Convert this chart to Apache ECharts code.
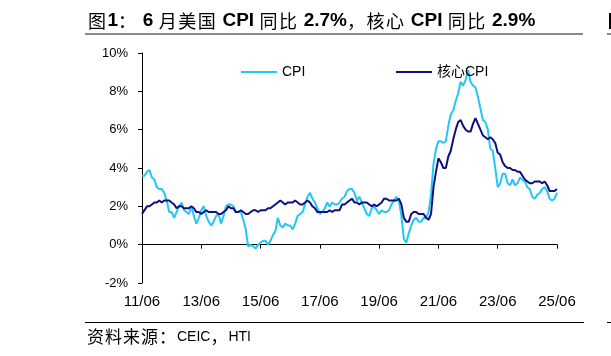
<!DOCTYPE html>
<html>
<head>
<meta charset="utf-8">
<script src="https://cdn.jsdelivr.net/npm/echarts@6/dist/echarts.min.js"></script>
<style>
html,body{margin:0;padding:0;background:#fff;}
#c{width:611px;height:356px;}
</style>
</head>
<body>
<div id="c"></div>
<script>
// Monthly YoY, 2011-06 .. 2025-06
var cpi = [
  3.6, 3.6, 3.8, 3.9, 3.5, 3.4, 3.0,
  2.9, 2.9, 2.7, 2.3, 1.7, 1.7, 1.4, 1.7, 2.0, 2.2, 1.8, 1.7,
  1.6, 2.0, 1.5, 1.1, 1.4, 1.8, 2.0, 1.5, 1.2, 1.0, 1.2, 1.5,
  1.6, 1.1, 1.5, 2.0, 2.1, 2.1, 2.0, 1.7, 1.7, 1.7, 1.3, 0.8,
  -0.1, 0.0, -0.1, -0.2, 0.0, 0.1, 0.2, 0.2, 0.0, 0.2, 0.5, 0.7,
  1.4, 1.0, 0.9, 1.1, 1.0, 1.0, 0.8, 1.1, 1.5, 1.6, 1.7, 2.1,
  2.5, 2.7, 2.4, 2.2, 1.9, 1.6, 1.7, 1.9, 2.2, 2.0, 2.2, 2.1,
  2.1, 2.2, 2.4, 2.5, 2.8, 2.9, 2.9, 2.7, 2.3, 2.5, 2.2, 1.9,
  1.6, 1.5, 1.9, 2.0, 1.8, 1.6, 1.8, 1.7, 1.7, 1.8, 2.1, 2.3,
  2.5, 2.3, 1.5, 0.3, 0.1, 0.6, 1.0, 1.3, 1.4, 1.2, 1.2, 1.4,
  1.4, 1.7, 2.6, 4.2, 5.0, 5.4, 5.4, 5.3, 5.4, 6.2, 6.8, 7.0,
  7.5, 7.9, 8.5, 8.3, 8.6, 9.1, 8.5, 8.3, 8.2, 7.7, 7.1, 6.5,
  6.4, 6.0, 5.0, 4.9, 4.0, 3.0, 3.2, 3.7, 3.7, 3.2, 3.1, 3.4,
  3.1, 3.2, 3.5, 3.4, 3.3, 3.0, 2.9, 2.5, 2.4, 2.6, 2.7, 2.9,
  3.0, 2.8, 2.4, 2.3, 2.4, 2.7
];
var coreCpi = [
  1.6, 1.8, 2.0, 2.0, 2.1, 2.2, 2.2,
  2.3, 2.2, 2.3, 2.3, 2.3, 2.2, 2.1, 1.9, 2.0, 2.0, 1.9, 1.9,
  1.9, 2.0, 1.9, 1.7, 1.7, 1.6, 1.7, 1.8, 1.7, 1.7, 1.7, 1.7,
  1.6, 1.6, 1.7, 1.8, 2.0, 1.9, 1.9, 1.7, 1.7, 1.8, 1.7, 1.6,
  1.6, 1.7, 1.8, 1.8, 1.7, 1.8, 1.8, 1.8, 1.9, 1.9, 2.0, 2.1,
  2.2, 2.3, 2.2, 2.1, 2.2, 2.2, 2.2, 2.3, 2.2, 2.1, 2.1, 2.2,
  2.3, 2.2, 2.0, 1.9, 1.7, 1.7, 1.7, 1.7, 1.7, 1.8, 1.7, 1.8,
  1.8, 1.8, 2.1, 2.1, 2.2, 2.3, 2.4, 2.2, 2.2, 2.1, 2.2, 2.2,
  2.2, 2.1, 2.0, 2.1, 2.0, 2.1, 2.2, 2.4, 2.4, 2.3, 2.3, 2.3,
  2.3, 2.4, 2.1, 1.4, 1.2, 1.2, 1.6, 1.7, 1.7, 1.6, 1.6, 1.6,
  1.4, 1.3, 1.6, 3.0, 3.8, 4.5, 4.3, 4.0, 4.0, 4.6, 4.9, 5.5,
  6.0, 6.4, 6.5, 6.2, 6.0, 5.9, 5.9, 6.3, 6.6, 6.3, 6.0, 5.7,
  5.6, 5.5, 5.6, 5.5, 5.3, 4.8, 4.7, 4.3, 4.1, 4.0, 4.0, 3.9,
  3.9, 3.8, 3.8, 3.6, 3.4, 3.3, 3.2, 3.2, 3.3, 3.3, 3.3, 3.2,
  3.3, 3.1, 2.8, 2.8, 2.8, 2.9
];
var startYear = 2011, startMonth = 6, monthCount = 169;
var months = [];
for (var i = 0; i < monthCount; i++) {
  var m = startMonth - 1 + i;
  var y = startYear + Math.floor(m / 12);
  var mm = (m % 12) + 1;
  months.push(String(y % 100).padStart(2, '0') + '/' + String(mm).padStart(2, '0'));
}
var yMin = -2, yMax = 10, yStep = 2;
var titleText = '图1： 6 月美国 CPI 同比 2.7%，核心 CPI 同比 2.9%';
var sourceText = '资料来源：CEIC，HTI';

var latin = 'Liberation Sans, Arial, Noto Sans CJK SC, sans-serif';
var cjk = 'Noto Sans CJK SC, sans-serif';

// split a string into rich tokens: CJK chars as fixed-width tokens, latin runs as another style
function richify(str, cStyle, lStyle) {
  var out = '', run = '';
  for (var k = 0; k < str.length; k++) {
    var ch = str[k];
    if (/[\u3000-\u9fff\uff00-\uffef]/.test(ch)) {
      if (run) { out += '{' + lStyle + '|' + run + '}'; run = ''; }
      out += '{' + cStyle + '|' + ch + '}';
    } else run += ch;
  }
  if (run) out += '{' + lStyle + '|' + run + '}';
  return out;
}

var chart = echarts.init(document.getElementById('c'), null, {renderer: 'canvas'});
chart.setOption({
  animation: false,
  backgroundColor: '#fff',
  grid: {left: 142, right: 54, top: 53, bottom: 73, containLabel: false},
  legend: [
    {data: ['CPI'], left: 241, top: 65, padding: 0, itemWidth: 36, itemHeight: 14, itemGap: 5,
     icon: 'path://M0,6 L36,6 L36,8 L0,8 Z',
     textStyle: {fontFamily: latin, fontSize: 14, color: '#000'}},
    {data: ['核心CPI'], left: 396, top: 65, padding: 0, itemWidth: 36, itemHeight: 14, itemGap: 5,
     icon: 'path://M0,6 L36,6 L36,8 L0,8 Z',
     textStyle: {fontFamily: latin, fontSize: 14, color: '#000'}}
  ],
  xAxis: [
    {type: 'category', data: months, boundaryGap: false,
     axisLine: {onZero: true, lineStyle: {color: '#000', width: 1}},
     axisTick: {show: true, inside: false, length: 4, interval: 23, lineStyle: {color: '#000'}},
     axisLabel: {show: false}, splitLine: {show: false}},
    {type: 'category', data: months, boundaryGap: false, position: 'bottom',
     axisLine: {show: false, onZero: false}, axisTick: {show: false},
     axisLabel: {show: true, interval: 23, margin: 11, fontFamily: latin, fontSize: 15, color: '#000'},
     splitLine: {show: false}}
  ],
  yAxis: {type: 'value', min: yMin, max: yMax, interval: yStep,
    axisLine: {show: true, lineStyle: {color: '#000', width: 1}},
    axisTick: {show: true, inside: false, length: 4, lineStyle: {color: '#000'}},
    axisLabel: {formatter: '{value}%', margin: 14, fontFamily: latin, fontSize: 13, color: '#000'},
    splitLine: {show: false}},
  series: [
    {name: 'CPI', type: 'line', data: cpi, showSymbol: false, symbol: 'none',
     lineStyle: {color: '#22C8F4', width: 2}, itemStyle: {color: '#22C8F4'}, z: 2},
    {name: '核心CPI', type: 'line', data: coreCpi, showSymbol: false, symbol: 'none',
     lineStyle: {color: '#0F0F80', width: 2}, itemStyle: {color: '#0F0F80'}, z: 3}
  ],
  graphic: [
    {type: 'text', x: 88, y: 21, style: {
      text: richify(titleText, 'c', 'l'), verticalAlign: 'middle', fill: '#000',
      rich: {
        c: {fontFamily: cjk, fontSize: 18, fontWeight: 'normal', width: 19.5, fill: '#000'},
        l: {fontFamily: latin, fontSize: 19, fontWeight: 'bold', fill: '#000'}
      }}},
    {type: 'rect', shape: {x: 85, y: 33, width: 498, height: 2}, style: {fill: '#8a8a8a'}},
    {type: 'rect', shape: {x: 607, y: 33, width: 4, height: 2}, style: {fill: '#8a8a8a'}},
    {type: 'rect', shape: {x: 609, y: 13, width: 3, height: 16}, style: {fill: '#000'}},
    {type: 'rect', shape: {x: 85, y: 322, width: 499, height: 1}, style: {fill: '#000'}},
    {type: 'rect', shape: {x: 607, y: 322, width: 4, height: 1}, style: {fill: '#000'}},
    {type: 'text', x: 87, y: 337, style: {
      text: richify(sourceText, 'c', 'l'), verticalAlign: 'middle', fill: '#000',
      rich: {
        c: {fontFamily: cjk, fontSize: 17, fontWeight: 'normal', width: 18, fill: '#000'},
        l: {fontFamily: latin, fontSize: 14, fill: '#000'}
      }}}
  ]
});
</script>
</body>
</html>
